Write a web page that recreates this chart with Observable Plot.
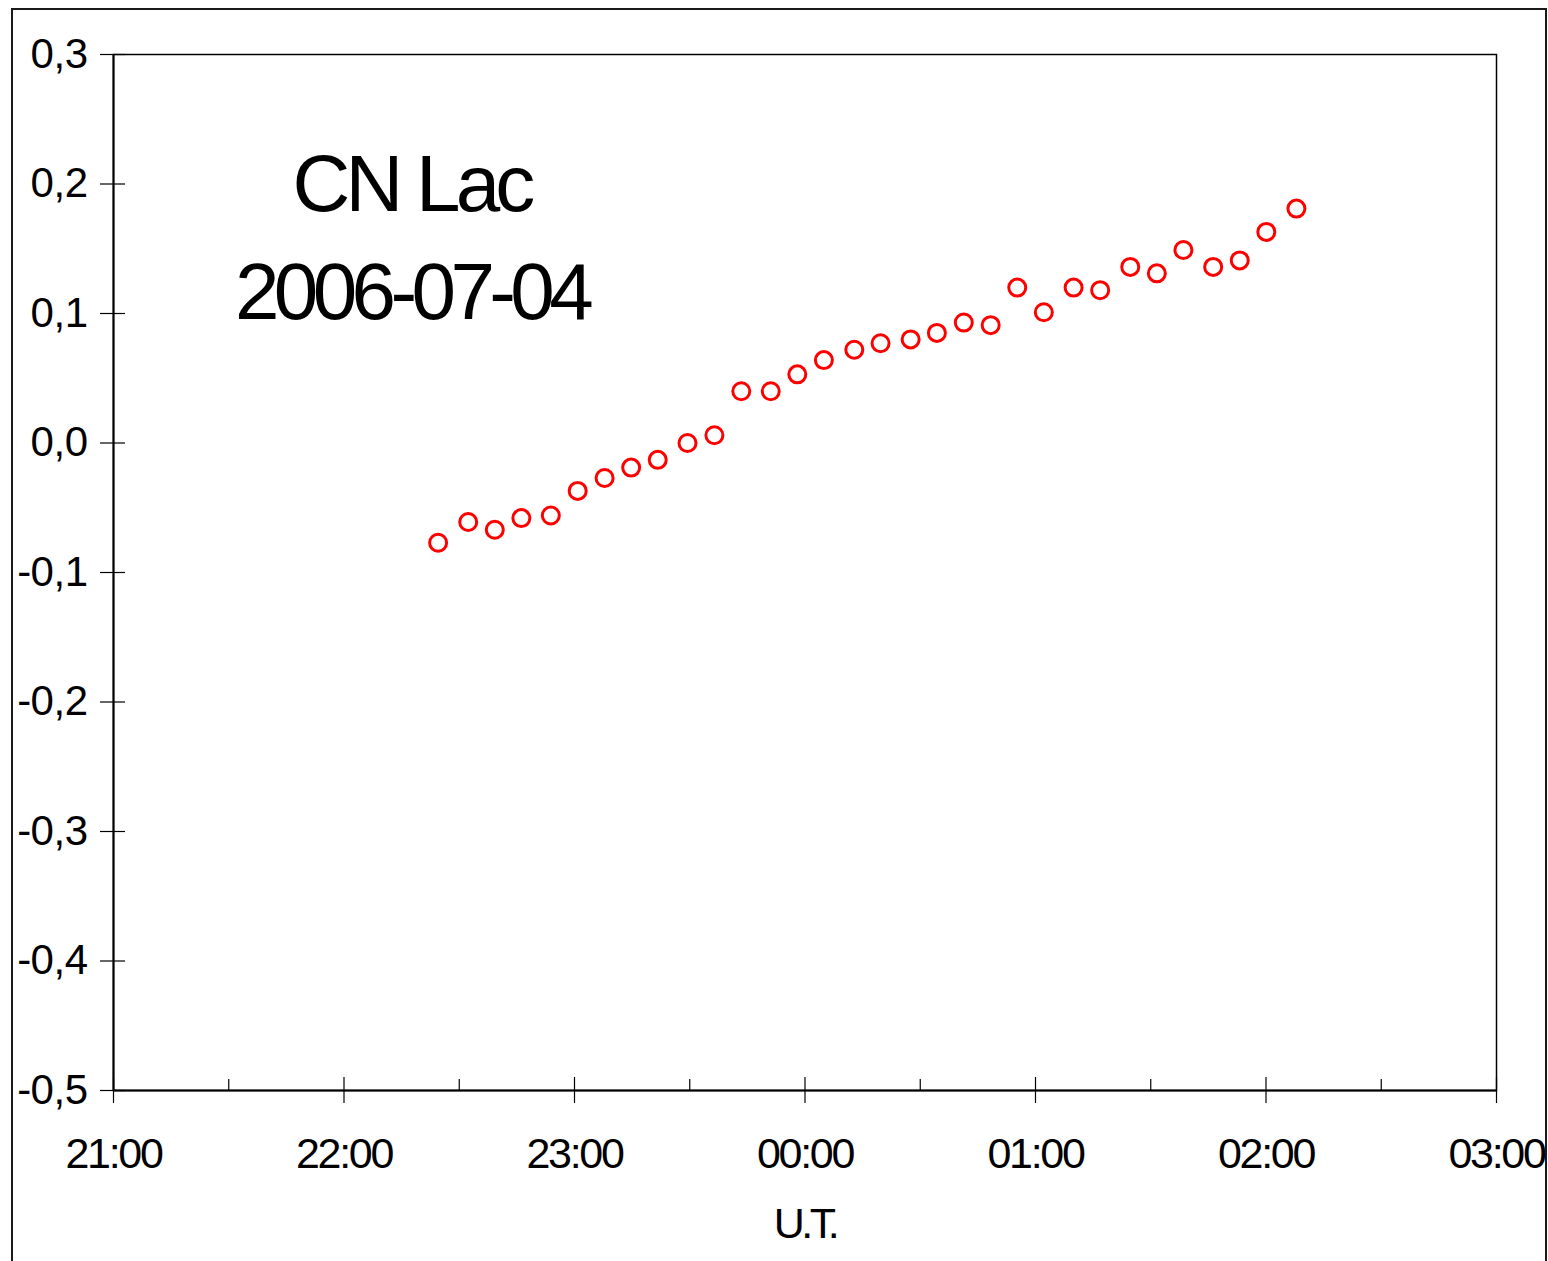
<!DOCTYPE html>
<html><head><meta charset="utf-8">
<script src="https://cdn.jsdelivr.net/npm/d3@7"></script>
<script src="https://cdn.jsdelivr.net/npm/@observablehq/plot@0.6"></script>
<style>
body{margin:0;background:#fff;}
#wrap{position:relative;width:1548px;height:1261px;overflow:hidden;background:#fff;}
#border{position:absolute;left:11px;top:8px;width:1532px;height:1300px;border:2px solid #1a1a1a;pointer-events:none;}
</style></head><body>
<div id="wrap"><div id="chart"></div><div id="border"></div></div>
<script>
// Observation times (U.T.), 2006-07-03/04
const times = ["22:24:30","22:32:20","22:39:15","22:46:10","22:53:50","23:00:50","23:07:50","23:14:45",
  "23:21:40","23:29:25","23:36:25","23:43:25","23:51:05","23:58:00","00:04:55","00:12:50",
  "00:19:40","00:27:30","00:34:20","00:41:20","00:48:20","00:55:15","01:02:10","01:09:55",
  "01:16:50","01:24:40","01:31:35","01:38:30","01:46:15","01:53:10","02:00:05","02:07:55"];
const values = [-0.077,-0.061,-0.067,-0.058,-0.056,-0.037,-0.027,-0.019,
  -0.013,0.000,0.006,0.040,0.040,0.053,0.064,0.072,
  0.077,0.080,0.085,0.093,0.091,0.120,0.101,0.120,
  0.118,0.136,0.131,0.149,0.136,0.141,0.163,0.181];
const yTicks = [-0.5,-0.4,-0.3,-0.2,-0.1,0.0,0.1,0.2,0.3];
const xMajorTicks = ["21:00","22:00","23:00","00:00","01:00","02:00","03:00"];
const xMinorTicks = ["21:30","22:30","23:30","00:30","01:30","02:30"];
const xDomain = ["21:00","03:00"];
const yDomain = [-0.5,0.3];
const titleLines = ["CN Lac","2006-07-04"];
const titleTimes = ["22:17:35","22:17:35"];
const titleValues = [0.179,0.096];
const xLabel = "U.T.";

function toDate(s){
  const [h,m,sec] = s.split(":").map(Number);
  const d = h >= 12 ? 3 : 4;
  return new Date(Date.UTC(2006,6,d,h,m,sec||0));
}
const data = times.map((t,i)=>({t:toDate(t), v:values[i]}));
const titleData = titleLines.map((s,i)=>({s, t:toDate(titleTimes[i]), v:titleValues[i]}));
const fmtY = v => (v < -1e-9 ? "-" : "") + Math.abs(v).toFixed(1).replace(".", ",");
const xMaj = xMajorTicks.map(toDate), xMin = xMinorTicks.map(toDate);

const chart = Plot.plot({
  width:1548, height:1261,
  marginLeft:113, marginRight:52, marginTop:54, marginBottom:171,
  style:{fontFamily:"'Liberation Sans', Arial, sans-serif", color:"#000", background:"transparent"},
  x:{type:"utc", domain:xDomain.map(toDate)},
  y:{domain:yDomain},
  marks:[
    Plot.frame({stroke:"#000", strokeWidth:1.5}),
    Plot.axisY({ticks:yTicks, tickSize:25, dx:12, fill:"none", strokeWidth:1.2, label:null}),
    Plot.axisY({ticks:yTicks, tickSize:0, tickPadding:26, tickFormat:fmtY, fontSize:42, label:null}),
    Plot.axisX({ticks:xMaj, tickSize:26, dy:-13, fill:"none", strokeWidth:1.2, label:null}),
    Plot.axisX({ticks:xMin, tickSize:11, dy:-11, fill:"none", strokeWidth:1.2, label:null}),
    Plot.axisX({ticks:xMaj, tickSize:0, tickPadding:47, tickFormat:d3.utcFormat("%H:%M"), fontSize:43,
      label:xLabel, labelAnchor:"center", labelArrow:"none", labelOffset:147}),
    Plot.ruleX([toDate(xDomain[0])], {stroke:"#000", strokeWidth:2}),
    Plot.ruleY([yDomain[0]], {stroke:"#000", strokeWidth:2}),
    Plot.dot(data, {x:"t", y:"v", r:8.5, stroke:"#ff0000", strokeWidth:3, fill:"none"}),
    Plot.text(titleData, {x:"t", y:"v", text:"s", fontSize:80, textAnchor:"middle", lineAnchor:"bottom", fill:"#000"})
  ]
});
document.getElementById("chart").appendChild(chart);
const svg = d3.select(chart);
svg.selectAll('g[aria-label="text"] text').style("letter-spacing", (d,i,n) => n[i].textContent.length > 6 ? "-5.6px" : "-4.8px");
svg.selectAll('g[aria-label="x-axis tick label"] text').style("letter-spacing","-2.3px");
svg.selectAll('g[aria-label="x-axis label"] text').style("letter-spacing","-3.5px").style("font-size","43px");
svg.selectAll('g[aria-label="y-axis tick label"] text').style("letter-spacing","-0.5px");
</script></body></html>
